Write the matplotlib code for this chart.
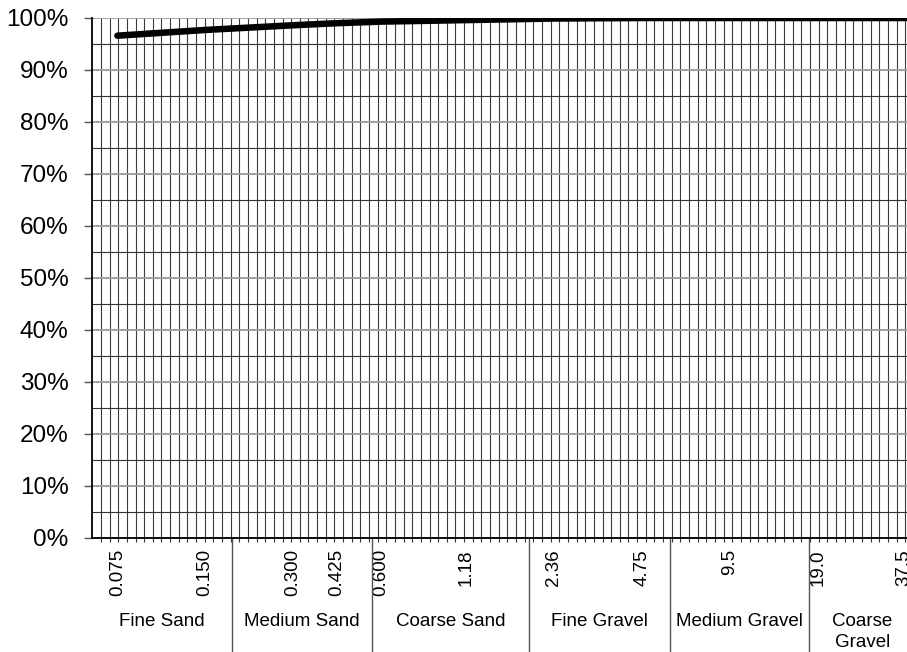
import numpy as np
import matplotlib.pyplot as plt
import matplotlib.transforms as mtransforms
from matplotlib.ticker import FixedLocator, NullFormatter

plt.rcParams['font.family'] = ['Liberation Sans', 'DejaVu Sans']

# grading curve: sieve size (mm) vs percent passing
sieve_mm = [0.075, 0.150, 0.300, 0.425, 0.600, 1.18, 2.36, 4.75, 9.5, 19.0, 37.5, 75.0]
passing_pct = [96.6, 97.7, 98.6, 99.0, 99.3, 99.6, 99.9, 100, 100, 100, 100, 100]

tick_mm = [0.075, 0.150, 0.300, 0.425, 0.600, 1.18, 2.36, 4.75, 9.5, 19.0, 37.5]
tick_labels = ['0.075', '0.150', '0.300', '0.425', '0.600', '1.18',
               '2.36', '4.75', '9.5', '19.0', '37.5']

soil_classes = ['Fine Sand', 'Medium Sand', 'Coarse Sand', 'Fine Gravel',
                'Medium Gravel', 'Coarse\nGravel']
class_edges_mm = [0.0615, 0.185, 0.56, 1.94, 5.9, 17.8, 41.0]

fig = plt.figure(figsize=(9.07, 6.52), dpi=100)
# axes run off the right side of the picture, like the original
ax = fig.add_axes([92.3 / 907, 114 / 652, (960 - 92.3) / 907, 520 / 652])

x_min, x_max = 0.0615, 58.5
ax.set_xscale('log', base=2)
ax.set_xlim(x_min, x_max)
ax.set_ylim(0, 100)

# dense vertical grid
grid_x = x_min * 2 ** (np.arange(1, 110) * 0.0986)
ax.xaxis.set_minor_locator(FixedLocator(grid_x))
ax.xaxis.set_minor_formatter(NullFormatter())
ax.set_xticks(tick_mm)
ax.set_xticklabels(tick_labels, rotation=90, fontsize=13.5)
ax.tick_params(axis='x', which='major', length=0, pad=8)
ax.tick_params(axis='x', which='minor', length=3, width=0.8, direction='out', color='#333333')
ax.xaxis.grid(True, which='minor', color='#3c3c3c', lw=0.8)

ax.set_yticks(range(0, 101, 10))
ax.set_yticklabels([f'{v}%' for v in range(0, 101, 10)])
ax.yaxis.set_minor_locator(FixedLocator(range(5, 100, 10)))
ax.tick_params(axis='y', which='major', length=6, width=1, pad=11, labelsize=17.5, color='#555555')
ax.tick_params(axis='y', which='minor', length=0)
ax.yaxis.grid(True, which='major', color='#9a9a9a', lw=1.3)
ax.yaxis.grid(True, which='minor', color='#333333', lw=0.8)

for s in ['top', 'right']:
    ax.spines[s].set_visible(False)
for s in ['left', 'bottom']:
    ax.spines[s].set_color('black')
    ax.spines[s].set_linewidth(1.3)

ax.plot(sieve_mm, passing_pct, color='black', lw=4.7, solid_capstyle='round', zorder=3)

# soil class bands under the axis
trans = mtransforms.blended_transform_factory(ax.transData, ax.transAxes)
for edge in class_edges_mm[1:-1]:
    ax.plot([edge, edge], [0, -0.23], transform=trans, color='#555555', lw=1, clip_on=False)
for name, lo, hi in zip(soil_classes, class_edges_mm[:-1], class_edges_mm[1:]):
    ax.text(np.sqrt(lo * hi), -0.1435, name, transform=trans, ha='center', va='top',
            fontsize=13.5, linespacing=1.3)

fig.savefig('out.png', dpi=100)
